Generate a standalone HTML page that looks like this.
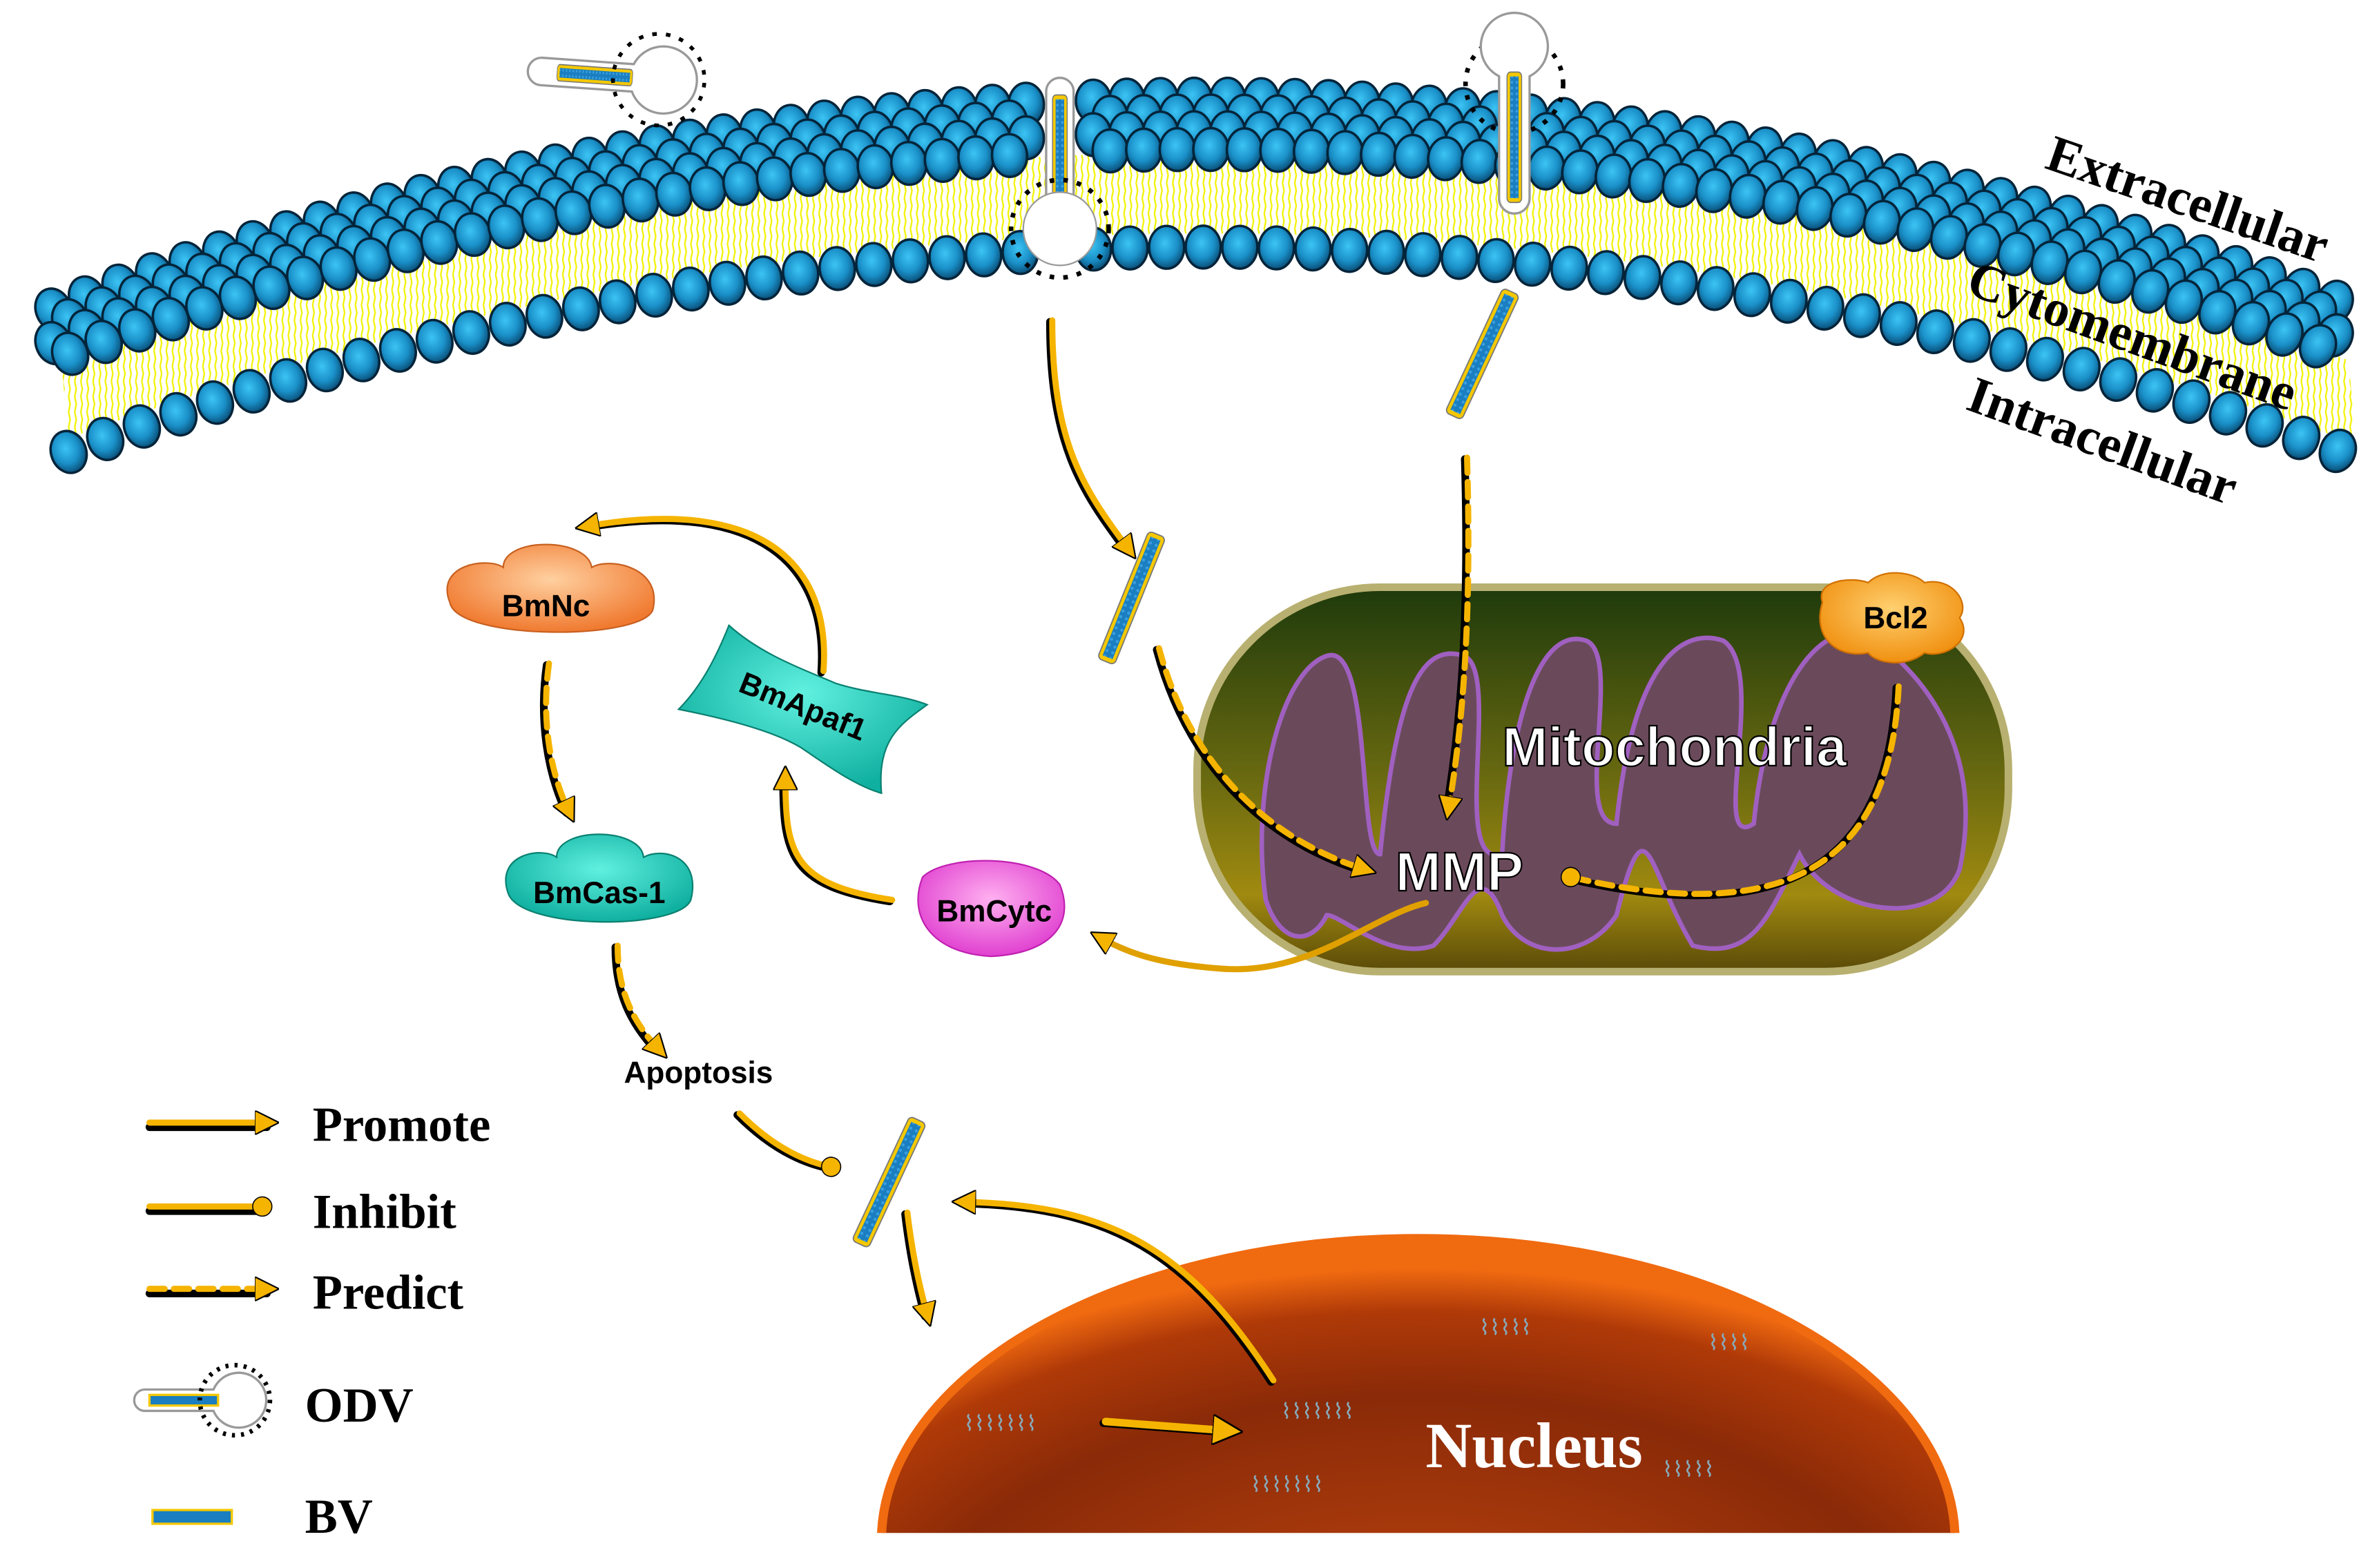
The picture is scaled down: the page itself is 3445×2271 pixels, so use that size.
<!DOCTYPE html>
<html><head><meta charset="utf-8"><style>
html,body{margin:0;padding:0;background:#fff;width:3445px;height:2271px;overflow:hidden;}
svg{display:block;}
.sf{font-family:"Liberation Serif",serif;font-weight:bold;}
.ss{font-family:"Liberation Sans",sans-serif;font-weight:bold;}
</style></head><body>
<svg id="s" width="3445" height="2271" viewBox="0 0 1560 1028" preserveAspectRatio="none" xmlns="http://www.w3.org/2000/svg">
<defs>
<radialGradient id="ball" cx="0.45" cy="0.4" r="0.6">
<stop offset="0" stop-color="#3cc4f4"/><stop offset="0.6" stop-color="#1a90c8"/><stop offset="1" stop-color="#0a4f78"/></radialGradient>
<pattern id="lip" width="4" height="10" patternUnits="userSpaceOnUse">
<path d="M1,0 L2,5 L1,10" stroke="#f2f200" stroke-width="1" fill="none"/></pattern>
<linearGradient id="mito" x1="0" y1="0" x2="0" y2="1">
<stop offset="0" stop-color="#1e3a0c"/><stop offset="0.5" stop-color="#6a6a10"/><stop offset="0.8" stop-color="#a08a10"/><stop offset="1" stop-color="#5a4a08"/></linearGradient>
<radialGradient id="nuc" cx="0.5" cy="0.75" r="0.7">
<stop offset="0" stop-color="#c84a10"/><stop offset="0.7" stop-color="#8a2a08"/><stop offset="0.9" stop-color="#b03a08"/><stop offset="1" stop-color="#f06a10"/></radialGradient>
<radialGradient id="orng" cx="0.5" cy="0.4" r="0.6"><stop offset="0" stop-color="#ffd0a0"/><stop offset="1" stop-color="#f07a30"/></radialGradient>
<radialGradient id="cyan" cx="0.5" cy="0.4" r="0.6"><stop offset="0" stop-color="#60f0e0"/><stop offset="1" stop-color="#10b0a0"/></radialGradient>
<radialGradient id="pink" cx="0.5" cy="0.4" r="0.6"><stop offset="0" stop-color="#ffb0f0"/><stop offset="1" stop-color="#e040d0"/></radialGradient>
<radialGradient id="bcl" cx="0.5" cy="0.4" r="0.6"><stop offset="0" stop-color="#ffd070"/><stop offset="1" stop-color="#f09010"/></radialGradient>
<pattern id="rodp" width="4" height="4" patternUnits="userSpaceOnUse"><rect width="4" height="4" fill="#1a7ec0"/><circle cx="2" cy="2" r="1" fill="#3aa0e0"/></pattern>
<g id="rod"><rect x="-6" y="-45" width="12" height="90" rx="3" fill="#f5c800" stroke="#777" stroke-width="0.8"/><rect x="-3.5" y="-42" width="7" height="84" fill="url(#rodp)"/></g>
<marker id="ah" viewBox="0 0 10 10" refX="5" refY="5" markerWidth="4" markerHeight="4" orient="auto"><path d="M0,0 L10,5 L0,10 z" fill="#f5b400" stroke="#000" stroke-width="0.6"/></marker>
<marker id="ci" viewBox="0 0 10 10" refX="5" refY="5" markerWidth="3.5" markerHeight="3.5" orient="auto"><circle cx="5" cy="5" r="4.5" fill="#f5b400" stroke="#000" stroke-width="0.5"/></marker>
</defs>
<g id="mem"></g>

<!-- ODVs -->
<g transform="translate(400,50) rotate(4)">
<path d="M-45,-9 h60 a22,22 0 1 1 0,18 h-60 a9,9 0 0 1 0,-18z" fill="#fff" stroke="#999" stroke-width="1.5"/>
<g transform="rotate(90) translate(0,10)"><use href="#rod" transform="scale(0.9,0.55)"/></g>
<g stroke="#000" stroke-width="2.5" stroke-dasharray="4 3"><circle cx="32" cy="0" r="30" fill="none" stroke-dasharray="3 6"/></g>
</g>
<g transform="translate(695,110)">
<path d="M-9,-50 v90 a12,12 0 0 0 18,0 v-90 a9,9 0 0 0 -18,0z" fill="#fff" stroke="#999" stroke-width="1.5"/>
<use href="#rod" transform="translate(0,-5) scale(0.8,0.95)"/>
<circle cx="0" cy="40" r="32" fill="none" stroke="#000" stroke-width="3" stroke-dasharray="3 6"/>
<circle cx="0" cy="40" r="24" fill="#fff" stroke="#999"/>
</g>
<g transform="translate(993,70)">
<circle cx="0" cy="-15" r="32" fill="none" stroke="#000" stroke-width="3" stroke-dasharray="3 6"/>
<path d="M-10,-20 a22,22 0 1 1 20,0 v80 a10,10 0 0 1 -20,0z" fill="#fff" stroke="#999" stroke-width="1.5"/>
<use href="#rod" transform="translate(0,20) scale(0.8,0.95)"/>
</g>

<!-- Membrane labels -->
<text class="sf" x="1340" y="110" font-size="34" transform="rotate(19 1340 110)">Extracellular</text>
<text class="sf" x="1288" y="192" font-size="34" transform="rotate(20 1288 192)">Cytomembrane</text>
<text class="sf" x="1288" y="268" font-size="34" transform="rotate(20 1288 268)">Intracellular</text>

<!-- Mitochondria -->
<rect x="785" y="385" width="532" height="252" rx="120" fill="url(#mito)" stroke="#b8b070" stroke-width="5"/>
<path d="M830,590 C820,520 840,440 870,430 C900,420 890,560 905,560 C915,460 930,420 960,430 C985,440 950,570 985,560 C990,470 1010,410 1040,420 C1065,430 1030,540 1060,540 C1070,440 1100,410 1130,420 C1160,440 1120,560 1150,540 C1160,440 1200,400 1230,420 C1270,450 1300,500 1285,570 C1270,610 1200,600 1180,560 C1160,600 1150,630 1110,620 C1080,570 1080,520 1060,600 C1040,630 1000,630 985,600 C970,560 960,600 940,620 C910,630 880,600 870,600 C860,620 840,620 830,590z" fill="#6a4a5a" stroke="#a060c0" stroke-width="3"/>
<text class="ss" x="1098" y="502" font-size="36" fill="#fff" stroke="#000" stroke-width="1" text-anchor="middle">Mitochondria</text>
<text class="ss" x="957" y="584" font-size="36" fill="#fff" stroke="#000" stroke-width="1" text-anchor="middle">MMP</text>

<!-- Nucleus -->
<clipPath id="nc"><rect x="0" y="0" width="1560" height="1005"/></clipPath>
<ellipse clip-path="url(#nc)" cx="930" cy="1010" rx="352" ry="198" fill="url(#nuc)" stroke="#f06a10" stroke-width="6"/>
<text class="sf" x="1006" y="962" font-size="42" fill="#fff" text-anchor="middle">Nucleus</text>
<g font-family="Liberation Sans,sans-serif" font-size="14" fill="#8ab">
<text x="632" y="938">⌇⌇⌇⌇⌇⌇⌇</text><text x="840" y="930">⌇⌇⌇⌇⌇⌇⌇</text><text x="820" y="978">⌇⌇⌇⌇⌇⌇⌇</text><text x="970" y="875">⌇⌇⌇⌇⌇</text><text x="1090" y="968">⌇⌇⌇⌇⌇</text><text x="1120" y="885">⌇⌇⌇⌇</text></g>

<!-- Nodes -->
<path d="M295,395 C285,370 320,365 330,372 C330,352 385,352 388,372 C400,365 435,372 428,400 C420,420 300,420 295,395z" fill="url(#orng)" stroke="#c86020"/>
<text class="ss" x="358" y="404" font-size="20" text-anchor="middle">BmNc</text>
<path d="M333,585 C325,560 355,555 365,562 C365,542 420,542 422,562 C435,555 460,562 453,590 C445,610 340,610 333,585z" fill="url(#cyan)" stroke="#0a8070"/>
<text class="ss" x="393" y="592" font-size="20" text-anchor="middle">BmCas-1</text>
<path d="M478,410 C500,430 530,440 548,448 C570,455 590,455 608,462 C590,475 575,485 578,520 C560,515 540,500 525,490 C505,478 470,470 445,465 C460,450 470,430 478,410z" fill="url(#cyan)" stroke="#0a8070"/>
<text class="ss" x="527" y="470" font-size="20" text-anchor="middle" transform="rotate(22 527 462)">BmApaf1</text>
<path d="M605,575 C620,560 680,560 695,580 C705,605 690,625 650,627 C610,625 595,600 605,575z" fill="url(#pink)" stroke="#c020b0"/>
<text class="ss" x="652" y="604" font-size="20" text-anchor="middle">BmCytc</text>
<path d="M1195,395 C1190,380 1215,378 1225,382 C1235,372 1255,375 1262,382 C1280,378 1292,395 1285,405 C1295,420 1275,432 1262,428 C1250,438 1230,435 1225,428 C1205,432 1188,418 1195,395z" fill="url(#bcl)" stroke="#d07000"/>
<text class="ss" x="1243" y="412" font-size="20" text-anchor="middle">Bcl2</text>
<text class="ss" x="458" y="710" font-size="20" text-anchor="middle">Apoptosis</text>

<!-- Rods -->
<use href="#rod" transform="translate(972,232) rotate(25)"/>
<use href="#rod" transform="translate(742,392) rotate(22)"/>
<use href="#rod" transform="translate(583,775) rotate(25)"/>

<!-- Arrows -->
<g fill="none" stroke-linecap="round">
<g stroke="#000" stroke-width="5" transform="translate(-1.5,1)">
<path d="M690,210 C690,290 710,320 740,360"/>
<path d="M540,440 C545,370 500,325 385,345"/>
<path d="M585,590 C520,580 515,560 515,510"/>
<path d="M485,730 C500,745 520,760 545,765"/>
<path d="M595,795 C598,820 602,840 608,862"/>
<path d="M835,905 C780,820 730,790 632,788"/>
<path d="M725,932 L805,938"/>
<path d="M360,435 C355,470 360,505 373,532"/>
<path d="M405,620 C405,650 415,670 432,688"/>
<path d="M962,300 C965,400 960,470 950,530"/>
<path d="M760,425 C780,500 830,550 895,570"/>
<path d="M1245,450 C1240,560 1180,610 1030,575"/>
</g>
<path d="M690,210 C690,290 710,320 740,360" stroke="#f5b400" stroke-width="4" marker-end="url(#ah)"/>
<path d="M540,440 C545,370 500,325 385,345" stroke="#f5b400" stroke-width="4" marker-end="url(#ah)"/>
<path d="M585,590 C520,580 515,560 515,510" stroke="#f5b400" stroke-width="4" marker-end="url(#ah)"/>
<path d="M485,730 C500,745 520,760 545,765" stroke="#f5b400" stroke-width="4" marker-end="url(#ci)"/>
<path d="M595,795 C598,820 602,840 608,862" stroke="#f5b400" stroke-width="4" marker-end="url(#ah)"/>
<path d="M835,905 C780,820 730,790 632,788" stroke="#f5b400" stroke-width="4" marker-end="url(#ah)"/>
<path d="M725,932 L805,938" stroke="#f5b400" stroke-width="5" marker-end="url(#ah)"/>
<path d="M935,592 C900,600 860,640 800,635 C760,632 740,625 722,615" stroke="#e0a000" stroke-width="4" marker-end="url(#ah)"/>
<g stroke="#f5b400" stroke-width="4" stroke-dasharray="10 6">
<path d="M360,435 C355,470 360,505 373,532" marker-end="url(#ah)"/>
<path d="M405,620 C405,650 415,670 432,688" marker-end="url(#ah)"/>
<path d="M962,300 C965,400 960,470 950,530" marker-end="url(#ah)"/>
<path d="M760,425 C780,500 830,550 895,570" marker-end="url(#ah)"/>
<path d="M1245,450 C1240,560 1180,610 1030,575" marker-end="url(#ci)"/>
</g>
<!-- legend -->
<path d="M98,739 L175,739" stroke="#000" stroke-width="5"/><path d="M98,736 L175,736" stroke="#f5b400" stroke-width="4" marker-end="url(#ah)"/>
<path d="M98,794 L172,794" stroke="#000" stroke-width="5"/><path d="M98,791 L172,791" stroke="#f5b400" stroke-width="4" marker-end="url(#ci)"/>
<path d="M98,848 L175,848" stroke="#000" stroke-width="5"/><path d="M98,845 L175,845" stroke="#f5b400" stroke-width="4" stroke-dasharray="10 6" marker-end="url(#ah)"/>
</g>
<text class="sf" x="205" y="748" font-size="32">Promote</text>
<text class="sf" x="205" y="805" font-size="32">Inhibit</text>
<text class="sf" x="205" y="858" font-size="32">Predict</text>
<text class="sf" x="200" y="932" font-size="32">ODV</text>
<text class="sf" x="200" y="1005" font-size="32">BV</text>
<g transform="translate(130,918)">
<path d="M-35,-7 h45 a18,18 0 1 1 0,14 h-45 a7,7 0 0 1 0,-14z" fill="#fff" stroke="#999" stroke-width="1.5"/>
<rect x="-32" y="-3.5" width="45" height="7" fill="#1a7ec0" stroke="#f5c800" stroke-width="1.5"/>
<circle cx="24" cy="0" r="23" fill="none" stroke="#000" stroke-width="3" stroke-dasharray="2 4"/>
</g>
<rect x="100" y="990" width="52" height="9" fill="#1a7ec0" stroke="#f5c800" stroke-width="1.5"/>
</svg>
<script>
(function(){
var g=document.getElementById('mem'),ns='http://www.w3.org/2000/svg';
function yt(x){return 65+2.42e-4*(x-790)*(x-790);}
function add(tag,a){var e=document.createElementNS(ns,tag);for(var k in a)e.setAttribute(k,a[k]);g.appendChild(e);return e;}
var d='M40,'+(yt(40)+35);for(var x=40;x<=1545;x+=10)d+=' L'+x+','+(yt(x)+35);
for(var x=1545;x>=40;x-=10)d+=' L'+x+','+(yt(x)+88);d+='z';
add('path',{d:d,fill:'url(#lip)'});
function slope(x){return 2*2.42e-4*(x-790);}
var rows=[0,11,22,33];
for(var r=0;r<4;r++){
 var off=rows[r];
 for(var x=35+(r%2)*11;x<=1540;x+=22){
  if(Math.abs(x-695)<12||Math.abs(x-993)<10&&r<2)continue;
  var y=yt(x)+off; var ang=Math.atan(slope(x))*57.3;
  add('ellipse',{cx:x,cy:y,rx:11.5,ry:14,fill:'url(#ball)',stroke:'#04243a','stroke-width':1.6,transform:'rotate('+ang+' '+x+' '+y+')'});
 }
}
for(var x=45;x<=1535;x+=24){
  if(Math.abs(x-695)<14)continue;
  var y=yt(x)+97; var ang=Math.atan(slope(x))*57.3;
  add('ellipse',{cx:x,cy:y,rx:11.5,ry:14,fill:'url(#ball)',stroke:'#04243a','stroke-width':1.6,transform:'rotate('+ang+' '+x+' '+y+')'});
}
})();
</script>
</body></html>
